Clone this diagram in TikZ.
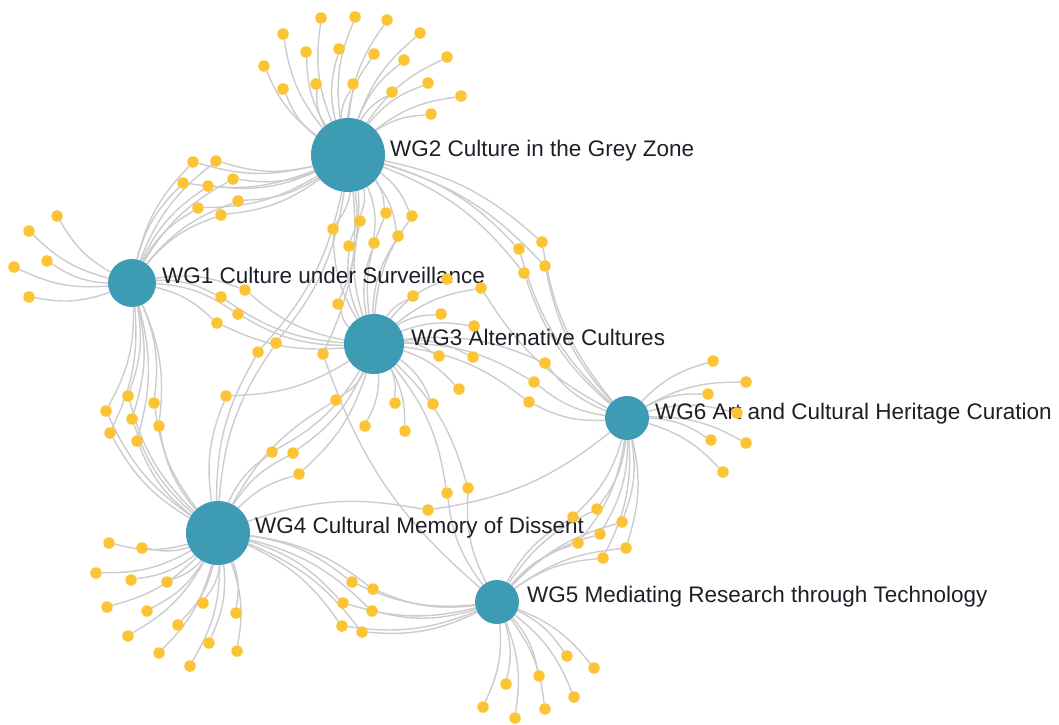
\documentclass[tikz,border=0pt]{standalone}
\usepackage{fontspec}
\setmainfont{Liberation Sans}
\pgfdeclarelayer{bg}
\pgfsetlayers{bg,main}
\definecolor{hubc}{RGB}{61,155,180}
\definecolor{leafc}{RGB}{252,196,52}
\definecolor{edgec}{RGB}{204,204,204}
\definecolor{txtc}{RGB}{30,30,40}
\newcommand{\leafgroup}[3]{%
  \foreach \p [count=\i] in {#3} {
    \node[leaf] (#1\i) at \p {};
    \begin{pgfonlayer}{bg}
      \foreach \h in {#2} \draw[link] (\h) to (#1\i);
    \end{pgfonlayer}
  }}
\begin{document}
\begin{tikzpicture}[x=1pt,y=-1pt,
  hub/.style={circle,fill=hubc,inner sep=0pt,minimum size=#1},
  leaf/.style={circle,fill=leafc,inner sep=0pt,minimum size=11.5pt},
  lbl/.style={anchor=base west,text=txtc,font=\fontsize{22.5}{26}\selectfont,inner sep=0pt},
  link/.style={draw=edgec,line width=1.4pt,bend left=15}]
\useasboundingbox (0,0) rectangle (1059,724);
% labels
\node[lbl] (l2) at (390,156) {WG2 Culture in the Grey Zone};
\node[lbl] (l1) at (162,283) {WG1 Culture under Surveillance};
\node[lbl] (l3) at (411,345) {WG3 Alternative Cultures};
\node[lbl] (l6) at (655,419) {WG6 Art and Cultural Heritage Curation};
\node[lbl] (l4) at (255,533) {WG4 Cultural Memory of Dissent};
\node[lbl] (l5) at (527,602) {WG5 Mediating Research through Technology};
% hubs
\node[hub=74pt] (w2) at (348,155) {};
\node[hub=48pt] (w1) at (132,283) {};
\node[hub=60pt] (w3) at (374,344) {};
\node[hub=44pt] (w6) at (627,418) {};
\node[hub=64pt] (w4) at (218,533) {};
\node[hub=44pt] (w5) at (497,602) {};
% leaves
\leafgroup{a}{w1}{(57,216),(29,231),(47,261),(14,267),(29,297)}
\leafgroup{b}{w1,w2}{(193,162),(216,161),(183,183),(208,186),(233,179),(198,208),(221,215),(238,201)}
\leafgroup{c}{w1,w3}{(221,297),(245,290),(238,314),(217,323)}
\leafgroup{d}{w1,w4}{(106,411),(128,396),(154,403),(132,419),(159,426),(110,433),(137,441)}
\leafgroup{e}{w2}{(283,34),(321,18),(355,17),(387,20),(420,33),(447,57),(461,96),(264,66),(283,89),(306,52),(316,84),(339,49),(353,84),(374,54),(404,60),(428,83),(392,92),(431,114)}
\leafgroup{f}{w2,w3}{(333,229),(360,221),(386,213),(412,216),(349,246),(374,243),(398,236),(338,304)}
\leafgroup{g}{w2,w4}{(258,352),(276,343)}
\leafgroup{h}{w2,w5}{(323,354)}
\leafgroup{k}{w2,w6}{(519,249),(542,242),(545,266),(524,273)}
\leafgroup{m}{w3}{(413,296),(447,279),(441,314),(474,326),(439,356),(473,357),(459,389),(433,404),(395,403),(405,431),(365,426)}
\leafgroup{n}{w3,w6}{(481,288),(545,363),(534,382),(529,402)}
\leafgroup{p}{w3,w4}{(272,452),(293,453),(299,474),(226,396),(336,400)}
\leafgroup{q}{w3,w5}{(447,493),(468,488)}
\leafgroup{r}{w4}{(109,543),(142,548),(96,573),(131,580),(167,582),(107,607),(147,611),(203,603),(128,636),(178,625),(236,613),(159,653),(209,643),(190,666),(237,651)}
\leafgroup{s}{w4,w5}{(352,582),(373,589),(343,603),(372,611),(342,626),(362,632)}
\leafgroup{t}{w4,w6}{(428,510)}
\leafgroup{u}{w5}{(567,656),(594,668),(539,676),(506,684),(574,697),(483,707),(545,709),(515,718)}
\leafgroup{v}{w5,w6}{(573,517),(597,509),(622,522),(578,543),(600,534),(626,548),(603,558)}
\leafgroup{z}{w6}{(713,361),(746,382),(708,394),(737,413),(711,440),(746,443),(723,472)}
\end{tikzpicture}
\end{document}
